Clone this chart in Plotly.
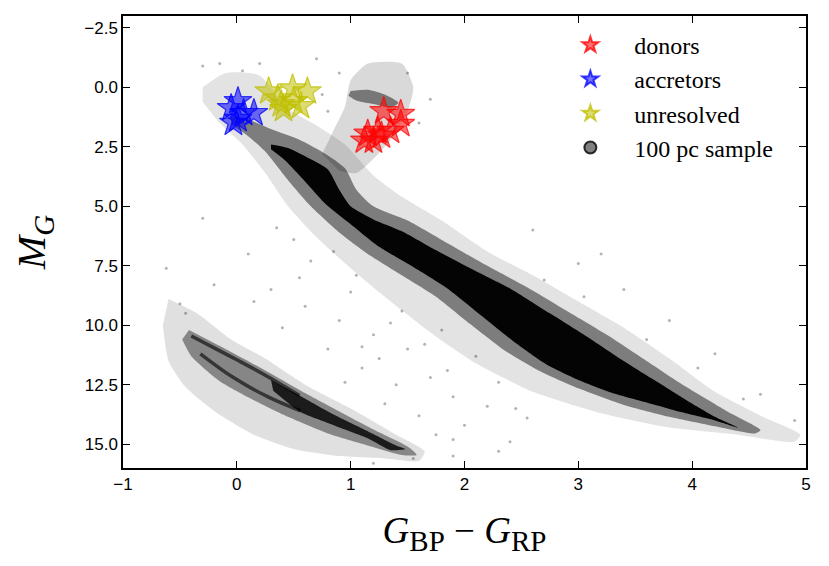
import plotly.graph_objects as go

# colour (G_BP - G_RP) and absolute magnitude M_G
donor_color = [1.29, 1.44, 1.44, 1.35, 1.24, 1.15, 1.20, 1.27, 1.12]
donor_mag = [1.00, 1.12, 1.54, 1.83, 1.83, 1.95, 2.24, 2.03, 2.24]

accretor_color = [0.01, -0.05, 0.06, 0.15, 0.01, -0.03]
accretor_mag = [0.58, 0.87, 1.08, 1.08, 1.33, 1.49]

unres_color = [0.28, 0.49, 0.62, 0.39, 0.50, 0.36, 0.56, 0.41]
unres_mag = [0.17, 0.04, 0.17, 0.71, 0.58, 0.46, 0.79, 0.91]

# 100 pc sample, drawn as density outlines
ms_core_color = [0.30, 0.45, 0.62, 0.80, 0.90, 1.00, 1.20, 1.45, 1.75, 2.05, 2.40, 2.75, 3.05, 3.35, 3.65, 3.95, 4.20, 4.40,
                 4.20, 3.90, 3.60, 3.30, 3.00, 2.72, 2.45, 2.15, 1.85, 1.55, 1.25, 1.00, 0.78, 0.58, 0.42, 0.30]
ms_core_mag = [2.40, 2.55, 2.95, 3.45, 4.30, 5.00, 5.55, 6.05, 6.85, 7.60, 8.45, 9.50, 10.40, 11.35, 12.25, 13.15, 13.85, 14.30,
               14.00, 13.65, 13.25, 12.85, 12.30, 11.65, 10.75, 9.60, 8.45, 7.55, 6.70, 5.75, 4.90, 3.85, 3.05, 2.60]

ms_band_color = [-0.05, 0.10, 0.30, 0.55, 0.78, 0.95, 1.05, 1.20, 1.50, 1.85, 2.20, 2.55, 2.90, 3.25, 3.60, 3.95, 4.30, 4.60,
                 4.55, 4.20, 3.80, 3.40, 3.00, 2.65, 2.35, 2.05, 1.75, 1.45, 1.15, 0.90, 0.65, 0.45, 0.25, 0.10, -0.05]
ms_band_mag = [1.20, 1.35, 1.75, 2.20, 2.80, 3.40, 4.30, 5.00, 5.60, 6.55, 7.50, 8.40, 9.40, 10.40, 11.50, 12.60, 13.60, 14.40,
               14.55, 14.25, 13.85, 13.35, 12.65, 11.90, 11.05, 9.95, 8.80, 7.90, 7.00, 6.10, 5.00, 3.90, 2.70, 2.05, 1.55]

ms_halo_color = [-0.30, -0.10, 0.20, 0.45, 0.70, 0.95, 1.20, 1.45, 1.80, 2.20, 2.60, 3.00, 3.40, 3.80, 4.20, 4.60, 4.95,
                 4.90, 4.40, 3.80, 3.20, 2.60, 2.10, 1.70, 1.30, 1.00, 0.70, 0.45, 0.25, 0.05, -0.15, -0.30]
ms_halo_mag = [0.00, -0.60, -0.50, 0.90, 1.60, 2.40, 3.70, 4.60, 5.60, 6.90, 7.90, 9.00, 10.10, 11.40, 12.80, 13.80, 14.60,
               14.90, 14.60, 14.30, 13.70, 12.80, 11.60, 10.30, 8.80, 7.60, 6.30, 5.00, 3.60, 2.40, 1.50, 0.60]

giant_color = [0.75, 0.85, 0.95, 1.00, 1.15, 1.45, 1.55, 1.50, 1.35, 1.20, 1.05, 0.90]
giant_mag = [2.80, 1.80, 0.80, -0.30, -1.00, -1.00, 0.00, 1.00, 2.20, 3.00, 3.60, 3.50]

clump_color = [1.00, 1.15, 1.30, 1.42, 1.35, 1.20, 1.05, 0.98]
clump_mag = [0.15, 0.10, 0.30, 0.65, 0.85, 0.70, 0.55, 0.35]

wd_halo_color = [-0.60, -0.35, -0.05, 0.25, 0.60, 1.00, 1.40, 1.65, 1.60, 1.30, 0.90, 0.50, 0.15, -0.20, -0.45, -0.60, -0.65]
wd_halo_mag = [8.90, 9.50, 10.60, 11.40, 12.50, 13.50, 14.60, 15.30, 15.70, 15.60, 15.50, 15.20, 14.60, 13.60, 12.60, 11.50, 10.00]

wd_band_color = [-0.42, -0.10, 0.25, 0.60, 0.95, 1.25, 1.50, 1.58, 1.45, 1.15, 0.80, 0.45, 0.15, -0.15, -0.40, -0.48]
wd_band_mag = [10.20, 11.00, 11.90, 12.85, 13.75, 14.50, 15.10, 15.45, 15.45, 15.05, 14.55, 13.85, 13.15, 12.35, 11.30, 10.60]

wd_core_color = [0.30, 0.55, 0.85, 1.15, 1.40, 1.48, 1.35, 1.15, 0.85, 0.56, 0.32]
wd_core_mag = [12.30, 12.95, 13.75, 14.45, 15.05, 15.20, 15.25, 14.75, 14.20, 13.65, 12.75]

wd_a_color = [-0.40, -0.20, 0.00, 0.25, 0.55]
wd_a_mag = [10.45, 10.95, 11.45, 12.10, 12.95]
wd_b_color = [-0.32, -0.03, 0.27, 0.56]
wd_b_mag = [11.20, 12.20, 13.00, 13.60]

sparse_color = [0.30, 0.60, 0.90, 1.20, 1.50, 0.40, 0.80, 1.10, 1.40, 1.70, 1.90, 0.95, 1.30, 1.60, 2.00, 0.55, 1.00,
                1.45, 1.80, 2.10, 2.30, 1.75, 1.55, 1.90, -0.62, -0.30, 2.60, 3.00, 3.40, 3.80, 4.20, 4.60, 4.90, 3.20,
                -0.30, -0.15, 0.05, 0.20, 0.70, 0.90, 1.50, 1.70, 1.60, 0.75, 0.80, 2.30, 1.20, 0.15, -0.45, 2.45,
                0.65, 1.05, 1.35, 1.65, 2.20, 2.55, 0.50, 0.85, 1.25, 1.85, 2.70, 3.05, 3.60, 4.05, 4.45, -0.50,
                -0.20, 0.10, 0.35, 1.10, 1.90, 2.40]
sparse_mag = [8.50, 9.20, 9.80, 10.40, 11.00, 10.10, 11.00, 11.80, 12.50, 12.20, 13.00, 12.40, 13.30, 13.80, 14.20, 8.00, 8.60,
              9.40, 10.20, 11.30, 12.40, 14.60, 15.60, 15.50, 7.60, 5.50, 6.00, 7.40, 8.50, 9.80, 11.20, 12.90, 14.00, 7.00,
              -0.90, -1.00, -0.70, -1.00, -1.20, -0.60, -0.60, 0.50, 1.50, 0.30, 1.00, 15.30, 15.80, 9.00, 9.50, 13.50,
              7.30, 7.90, 9.90, 10.80, 13.40, 13.90, 6.40, 6.90, 11.40, 11.90, 8.10, 8.80, 10.60, 11.80, 13.10, 9.10,
              8.30, 7.00, 5.90, 10.90, 14.80, 14.90]

x_ticks = [-1, 0, 1, 2, 3, 4, 5]
y_ticks = [-2.5, 0.0, 2.5, 5.0, 7.5, 10.0, 12.5, 15.0]

fig = go.Figure()


def add_blob(xs, ys, alpha):
    fig.add_trace(go.Scatter(x=xs, y=ys, mode="lines", fill="toself",
                             fillcolor="rgba(0,0,0,%s)" % alpha,
                             line=dict(width=0, shape="spline", smoothing=0.6),
                             hoverinfo="skip", showlegend=False))


add_blob(ms_halo_color, ms_halo_mag, 0.11)
add_blob(giant_color, giant_mag, 0.15)
add_blob(wd_halo_color, wd_halo_mag, 0.12)
add_blob(ms_band_color, ms_band_mag, 0.45)
add_blob(wd_band_color, wd_band_mag, 0.40)
add_blob(clump_color, clump_mag, 0.45)
add_blob(ms_core_color, ms_core_mag, 0.97)
add_blob(wd_core_color, wd_core_mag, 0.80)

for xs, ys in [(wd_a_color, wd_a_mag), (wd_b_color, wd_b_mag)]:
    fig.add_trace(go.Scatter(x=xs, y=ys, mode="lines",
                             line=dict(color="rgba(0,0,0,0.6)", width=3.5, shape="spline"),
                             hoverinfo="skip", showlegend=False))

fig.add_trace(go.Scatter(x=sparse_color, y=sparse_mag, mode="markers",
                         marker=dict(size=3, color="rgba(0,0,0,0.3)"),
                         hoverinfo="skip", showlegend=False))

pad = "\u00a0" * 4  # matplotlib leaves a wider gap between handle and text
star_sets = [
    ("donors", donor_color, donor_mag, "255,0,0"),
    ("accretors", accretor_color, accretor_mag, "0,0,255"),
    ("unresolved", unres_color, unres_mag, "191,191,0"),
]
for name, xs, ys, rgb in star_sets:
    fig.add_trace(go.Scatter(x=xs, y=ys, mode="markers", name=pad + name, legendgroup=name,
                             marker=dict(symbol="star", size=21, color="rgba(%s,0.55)" % rgb,
                                         line=dict(color="rgba(%s,0.75)" % rgb, width=1.2))))

# legend entry for the background sample
fig.add_trace(go.Scatter(x=[None], y=[None], mode="markers", name=pad + "100 pc sample",
                         legendgroup="sample",
                         marker=dict(symbol="circle", size=14, color="rgba(0,0,0,0.5)",
                                     line=dict(color="rgba(0,0,0,0.8)", width=1.5))))

axis_common = dict(showline=True, linecolor="black", linewidth=1.5, mirror="ticks",
                   ticks="inside", ticklen=7, tickwidth=1.2, tickcolor="black",
                   showgrid=False, zeroline=False,
                   tickfont=dict(family="Liberation Sans", size=17, color="black"))

sub_style = "<span style='font-size:29px'>%s</span>"
fig.update_xaxes(range=[-1, 5], tickvals=x_ticks,
                 ticktext=[str(t).replace("-", "\u2212") for t in x_ticks],
                 title=dict(text="<i>G</i><sub>" + sub_style % "BP" + "</sub>\u00a0\u2212\u00a0<i>G</i><sub>"
                                 + sub_style % "RP" + "</sub>",
                            font=dict(family="Liberation Serif", size=37, color="black"),
                            standoff=24),
                 **axis_common)
fig.update_yaxes(range=[16, -3], tickvals=y_ticks,
                 ticktext=[("%.1f" % t).replace("-", "\u2212") for t in y_ticks],
                 title=dict(text="<i>M<sub>" + sub_style % "G" + "</sub></i>",
                            font=dict(family="Liberation Serif", size=40, color="black"),
                            standoff=26),
                 **axis_common)

fig.update_layout(
    width=829, height=566,
    font=dict(family="Liberation Serif", size=19, color="black"),
    margin=dict(l=115, r=31, t=6, b=106),
    paper_bgcolor="white", plot_bgcolor="white",
    legend=dict(x=0.655, y=0.985, xanchor="left", yanchor="top",
                bgcolor="rgba(255,255,255,0)", itemsizing="constant",
                traceorder="grouped", tracegroupgap=0,
                font=dict(family="Liberation Serif", size=24, color="black")),
)

fig.write_html("out.html")
